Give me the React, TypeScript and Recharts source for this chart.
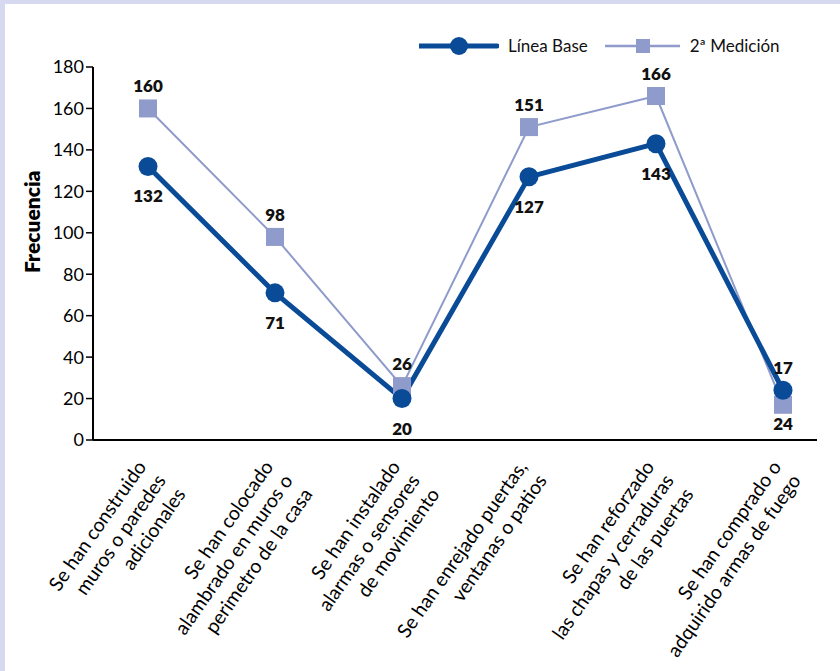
import React from 'react';
import { LineChart, Line, XAxis, YAxis, LabelList, Label } from 'recharts';

const categories = [
  'Se han construido\nmuros o paredes\nadicionales',
  'Se han colocado\nalambrado en muros o\nperimetro de la casa',
  'Se han instalado\nalarmas o sensores\nde movimiento',
  'Se han enrejado puertas,\nventanas o patios',
  'Se han reforzado\nlas chapas y cerraduras\nde las puertas',
  'Se han comprado o\nadquirido armas de fuego',
];
const lineaBase = [132, 71, 20, 127, 143, 24];
const segundaMedicion = [160, 98, 26, 151, 166, 17];
const yTicks = [0, 20, 40, 60, 80, 100, 120, 140, 160, 180];

const BASE_COLOR = '#0a4b97';
const SEG_COLOR = '#8e9bcb';
const FONT = 'Lato, "Open Sans", sans-serif';

const data = categories.map((c, i) => ({
  cat: c,
  base: lineaBase[i],
  seg: segundaMedicion[i],
}));

// plot geometry, used to place labels relative to the other series
const PLOT_TOP = 67;
const PLOT_H = 373;
const yPix = (v: number) => PLOT_TOP + PLOT_H * (1 - v / 180);

function CatTick({ x, y, payload }: any) {
  const lines = String(payload.value).split('\n');
  return (
    <g transform={`translate(${x},${y}) rotate(-55)`}>
      <text textAnchor="end" fontSize={19.5} fontFamily={FONT} fill="#000">
        {lines.map((l, i) => (
          <tspan key={i} x={-16} y={10 + i * 24}>{l}</tspan>
        ))}
      </text>
    </g>
  );
}

function BaseDot({ cx, cy }: any) {
  return <circle cx={cx} cy={cy} r={9.5} fill={BASE_COLOR} />;
}
function SegDot({ cx, cy }: any) {
  return <rect x={cx - 9} y={cy - 9} width={18} height={18} fill={SEG_COLOR} />;
}

function BaseLabel({ x, y, value, index }: any) {
  const other = yPix(segundaMedicion[index]);
  const ly = Math.max(y + 36, other + 25);
  return (
    <text x={x} y={ly} textAnchor="middle" fontSize={17} fontWeight={800} fontFamily={FONT} fill="#111">
      {value}
    </text>
  );
}
function SegLabel({ x, y, value, index }: any) {
  const other = yPix(lineaBase[index]);
  const ly = Math.min(y, other) - 16;
  return (
    <text x={x} y={ly} textAnchor="middle" fontSize={17} fontWeight={800} fontFamily={FONT} fill="#111">
      {value}
    </text>
  );
}

function LegendBox() {
  return (
    <div style={{ position: 'absolute', left: 419, top: 35, display: 'flex', alignItems: 'center', fontFamily: FONT, fontSize: 17, color: '#111' }}>
      <svg width={80} height={20}>
        <line x1={0} y1={10} x2={78} y2={10} stroke={BASE_COLOR} strokeWidth={5} strokeLinecap="round" />
        <circle cx={40} cy={10} r={9} fill={BASE_COLOR} />
      </svg>
      <span style={{ marginLeft: 9 }}>Línea Base</span>
      <svg width={76} height={20} style={{ marginLeft: 17 }}>
        <line x1={0} y1={10} x2={75} y2={10} stroke={SEG_COLOR} strokeWidth={2.5} />
        <rect x={31} y={3} width={14} height={14} fill={SEG_COLOR} />
      </svg>
      <span style={{ marginLeft: 9 }}>2ª Medición</span>
    </div>
  );
}

export default function App() {
  return (
    <div style={{ position: 'fixed', left: 0, top: 0, width: 840, height: 671, background: '#d6d9ef' }}>
      <div style={{ position: 'absolute', left: 5, top: 4, width: 835, height: 667, background: '#fff' }} />
      <div style={{ position: 'absolute', left: 0, top: 0 }}>
        <LineChart width={840} height={671} data={data} margin={{ top: 67, right: 23, bottom: 31, left: 0 }}>
          <XAxis dataKey="cat" tick={<CatTick />} tickLine={false} interval={0} height={200}
            axisLine={{ stroke: '#000', strokeWidth: 2 }} padding={{ left: 55, right: 34 }} />
          <YAxis domain={[0, 180]} ticks={yTicks} width={93} interval={0}
            axisLine={{ stroke: '#000', strokeWidth: 2 }} tickLine={{ stroke: '#000', strokeWidth: 1.5 }} tickSize={7}
            tick={{ fontSize: 18, fill: '#000', fontFamily: FONT }}>
            <Label content={({ viewBox }: any) => (
              <text x={viewBox.x + 32} y={viewBox.y + viewBox.height * 0.415} textAnchor="middle"
                transform={`rotate(-90, ${viewBox.x + 32}, ${viewBox.y + viewBox.height * 0.415})`}
                dominantBaseline="central" fontSize={21} fontWeight={800} fontFamily={FONT} fill="#000">
                Frecuencia
              </text>
            )} />
          </YAxis>
          <Line dataKey="seg" stroke={SEG_COLOR} strokeWidth={2} dot={<SegDot />} activeDot={false}
            isAnimationActive={false} type="linear">
            <LabelList dataKey="seg" content={<SegLabel />} />
          </Line>
          <Line dataKey="base" stroke={BASE_COLOR} strokeWidth={5} dot={<BaseDot />} activeDot={false}
            isAnimationActive={false} type="linear">
            <LabelList dataKey="base" content={<BaseLabel />} />
          </Line>
        </LineChart>
      </div>
      <LegendBox />
    </div>
  );
}
